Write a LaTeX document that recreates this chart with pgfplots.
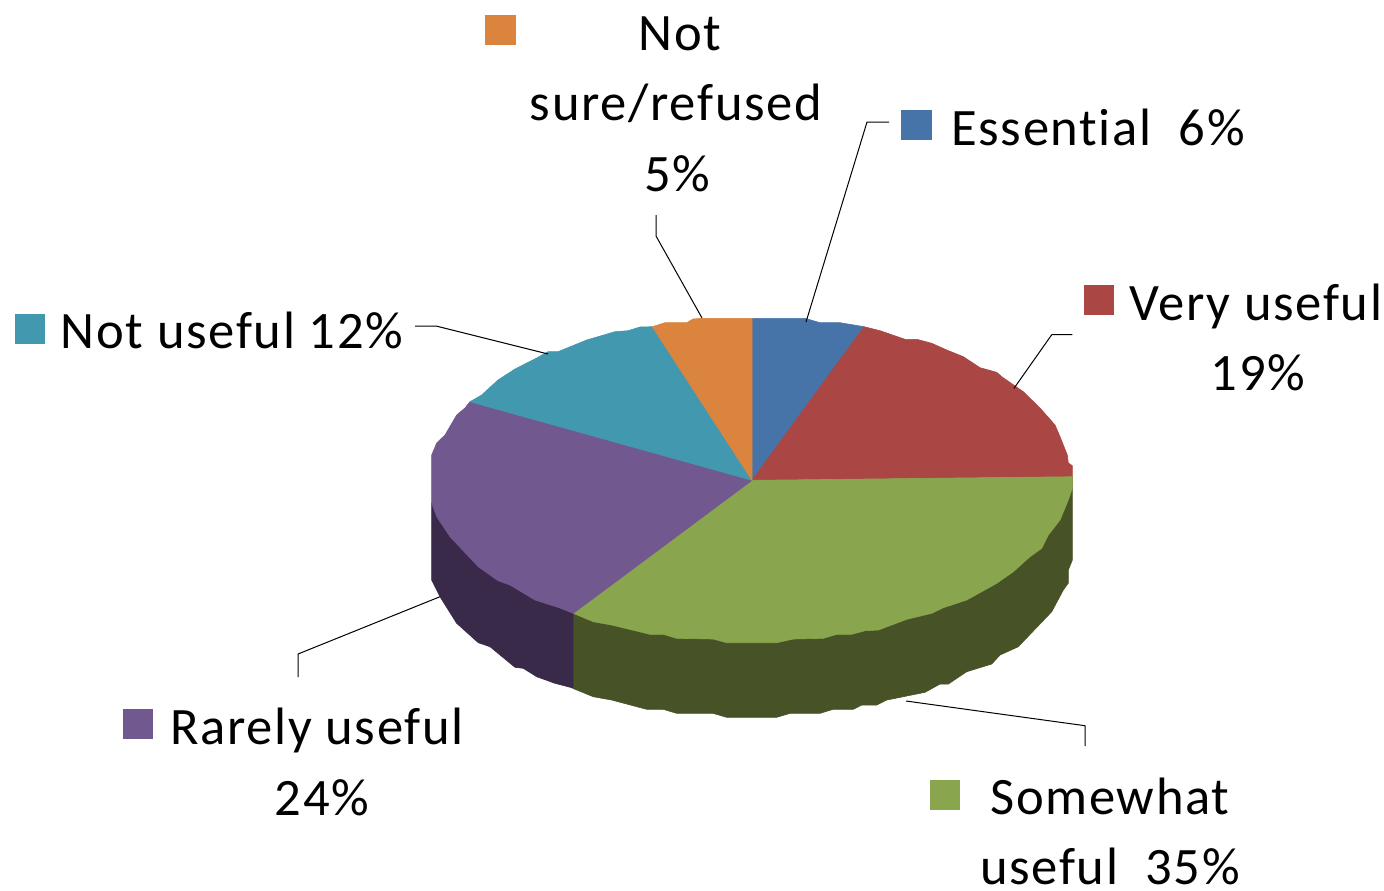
\documentclass[border=0pt]{standalone}
\usepackage{pgfplots}
\pgfplotsset{compat=1.18}
\usepackage{fontspec}
\setmainfont[LetterSpace=3.2,Ligatures=NoCommon]{Carlito}
\definecolor{cblue}{HTML}{4674A8}
\definecolor{cred}{HTML}{AA4643}
\definecolor{cgreen}{HTML}{89A54E}
\definecolor{cpurple}{HTML}{71588F}
\definecolor{cteal}{HTML}{4198AF}
\definecolor{corange}{HTML}{DB843D}
\definecolor{cdpurple}{HTML}{3A2A4A}
\definecolor{cdgreen}{HTML}{475227}
\tikzset{lbl/.style={anchor=base,inner sep=0pt,font=\fontsize{26.3}{30}\selectfont,text=black}}
\begin{document}
\begin{tikzpicture}
\path[use as bounding box] (0,0) rectangle (692pt,445pt);
\begin{axis}[at={(0,0)},anchor=south west,scale only axis,width=692pt,height=445pt,
  xmin=0,xmax=1384,ymin=0,ymax=890,y dir=reverse,hide axis,clip=false,
  every axis plot/.append style={no markers,line width=0.3pt,line join=round}]
% side walls
\addplot[fill=cdgreen,draw=cdgreen] coordinates {(573,613)(572.7,688.3)(593.3,696.7)(611.7,700)(646.7,709.3)(663.3,709.3)(676.7,713.3)(713,713.3)(726.7,717.3)(776.7,717.3)(790,713.3)(820,713.3)(833,709.3)(853.3,709.3)(861.7,705)(876.7,705)(886.7,700)(925,692.3)(940,684)(948.3,684)(966.7,671.7)(991.7,664)(1000,655)(1018.3,646.7)(1051.7,611.7)(1063.3,590)(1068.3,583)(1068.3,570)(1072.3,560)(1072.3,476.7)} --cycle;
\addplot[fill=cdpurple,draw=cdpurple] coordinates {(431.7,503)(431.7,580)(436.7,590)(440,596.7)(448.3,610)(456.7,623.3)(478.3,642.7)(490,646.7)(515,667.3)(523.3,668.3)(536.7,676.7)(555,683.3)(573,688)(573,613)} --cycle;
% top slices
\addplot[fill=cblue,draw=cblue] coordinates {(752,480.3)(864,326.7)(840,322.7)(820,322.7)(805,318.3)(752,318.3)} --cycle;
\addplot[fill=cred,draw=cred] coordinates {(752,480.3)(1072.3,476.7)(1072.3,465.7)(1068.3,463)(1067.3,455)(1060,436.7)(1055,425)(1040,408)(1023.3,391.7)(1001.7,376.7)(996.7,372.3)(980,367.7)(963.3,356.7)(946.7,350)(931.7,343.3)(916.7,339.3)(905,339.3)(880,330.7)(864,326.7)} --cycle;
\addplot[fill=cgreen,draw=cgreen] coordinates {(752,480.3)(573.3,613.3)(593.3,621.7)(611.7,625)(650,634.3)(663.3,634.3)(676.7,638.3)(713.3,639)(726.7,642.7)(776.7,642.7)(793.3,639)(823.3,638.3)(836.7,634.3)(851.7,634.3)(865,630.7)(878.3,630)(906.7,619.3)(931.7,613.3)(943.3,607.7)(966.7,600)(996.7,583.3)(1013.3,571.7)(1030,556.7)(1041.7,548.3)(1048.3,535)(1060,520)(1068.3,500)(1072.3,488.3)(1072.3,476.7)} --cycle;
\addplot[fill=cpurple,draw=cpurple] coordinates {(752,480.3)(470,401.7)(465,408)(456.7,415)(445,435)(436.7,443)(431.7,455)(431.7,503)(436.7,516.7)(450,536.7)(478.3,566.7)(498,580.7)(510,585)(535,600)(560,608)(573.3,613.3)} --cycle;
\addplot[fill=cteal,draw=cteal] coordinates {(752,480.3)(652.3,326.7)(640,327)(628,330.7)(615,331.7)(586.7,340)(558,351.7)(548,351.7)(536.7,358)(515,369)(498,380)(481.7,395)(470,401.7)} --cycle;
\addplot[fill=corange,draw=corange] coordinates {(752,480.3)(752,318.3)(701.7,318.3)(693,319)(686.7,322.7)(665,322.7)(652.3,326.7)} --cycle;
% leader lines
\addplot[black,line width=0.5pt] coordinates {(806,322)(867,122)(889,122)};
\addplot[black,line width=0.5pt] coordinates {(1014,388.3)(1051.7,334.7)(1072.3,334.7)};
\addplot[black,line width=0.5pt] coordinates {(906,701)(1085,725.7)(1085,746)};
\addplot[black,line width=0.5pt] coordinates {(440,596.7)(298,654)(298,677)};
\addplot[black,line width=0.5pt] coordinates {(548,354)(436,326)(415,326)};
\addplot[black,line width=0.5pt] coordinates {(702,318)(656,236)(656,215)};
% legend keys
\addplot[fill=corange,draw=none] coordinates {(485,15)(516,15)(516,45)(485,45)} --cycle;
\addplot[fill=cblue,draw=none] coordinates {(901,110)(932,110)(932,140)(901,140)} --cycle;
\addplot[fill=cred,draw=none] coordinates {(1084,285)(1114,285)(1114,315)(1084,315)} --cycle;
\addplot[fill=cteal,draw=none] coordinates {(15,314)(45,314)(45,344)(15,344)} --cycle;
\addplot[fill=cpurple,draw=none] coordinates {(123,709)(153,709)(153,739)(123,739)} --cycle;
\addplot[fill=cgreen,draw=none] coordinates {(930,780)(960,780)(960,810)(930,810)} --cycle;
% labels
\node[lbl] at (axis cs:680,50) {Not};
\node[lbl] at (axis cs:676,120) {sure/refused};
\node[lbl] at (axis cs:677,191) {5\%};
\node[lbl] at (axis cs:1098,145) {Essential\ \ 6\%};
\node[lbl] at (axis cs:1256,320) {Very useful};
\node[lbl] at (axis cs:1258,390) {19\%};
\node[lbl] at (axis cs:232,348) {Not useful\ 12\%};
\node[lbl] at (axis cs:317,744) {Rarely useful};
\node[lbl] at (axis cs:322,815) {24\%};
\node[lbl] at (axis cs:1110,814) {Somewhat};
\node[lbl] at (axis cs:1110,884) {useful\ \ 35\%};
\end{axis}
\end{tikzpicture}
\end{document}
